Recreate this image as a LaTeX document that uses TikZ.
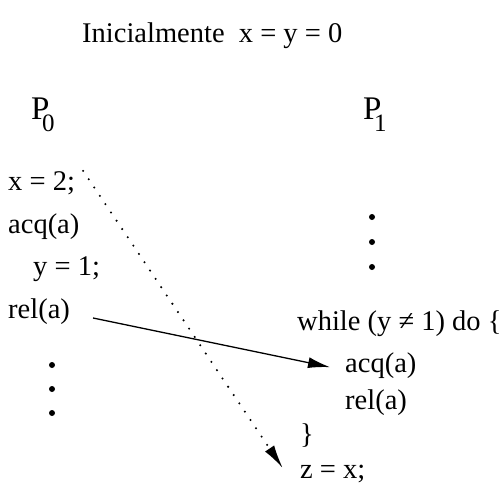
\documentclass[tikz,border=0pt]{standalone}
\usepackage{fontspec}
\setmainfont{Liberation Serif}
\usetikzlibrary{arrows.meta}
\begin{document}
\begin{tikzpicture}[x=1pt,y=-1pt,
  txt/.style={anchor=base west,inner sep=0pt,font=\fontsize{28.5}{30}\selectfont},
  proc/.style={anchor=base west,inner sep=0pt,font=\fontsize{33}{33}\selectfont},
  dotm/.style={circle,fill=black,inner sep=0pt,minimum size=6pt},
  msg/.style={line width=1.3pt,-{Latex[length=22pt,width=11pt]}},
  dep/.style={line width=2.3pt,line cap=round,dash pattern=on 0pt off 10pt,-{Latex[length=24pt,width=11pt]}}]
\useasboundingbox (0,0) rectangle (502,485);
\node[txt] (title) at (82,42) {Inicialmente\ \ x = y = 0};
\node[proc] (p0) at (31,119) {P\kern-7.5pt\raisebox{-12pt}{\fontsize{25}{25}\selectfont 0}};
\node[proc] (p1) at (363,119) {P\kern-7.5pt\raisebox{-12pt}{\fontsize{25}{25}\selectfont 1}};
% P0
\node[txt] (a1) at (8,190) {x = 2;};
\node[txt] (a2) at (8,233) {acq(a)};
\node[txt] (a3) at (33,275) {y = 1;};
\node[txt] (a4) at (8,318) {rel(a)};
\node[dotm] (d1) at (52,365) {};
\node[dotm] (d2) at (52,389) {};
\node[dotm] (d3) at (52,413) {};
% P1
\node[dotm] (e1) at (372,217) {};
\node[dotm] (e2) at (372,242) {};
\node[dotm] (e3) at (372,267) {};
\node[txt] (b1) at (297,330) {while (y ≠ 1) do \{};
\node[txt] (b2) at (345,372) {acq(a)};
\node[txt] (b3) at (345,409) {rel(a)};
\node[txt] (b4) at (300,443) {\}};
\node[txt] (b5) at (300,478) {z = x;};
\draw[msg] ([xshift=23pt]a4.base east) -- ([xshift=-15pt,yshift=-2pt]b2.west);
\draw[dep] ([xshift=8pt]a1.north east) -- ([xshift=-17pt,yshift=-4pt]b5.north west);
\end{tikzpicture}
\end{document}
